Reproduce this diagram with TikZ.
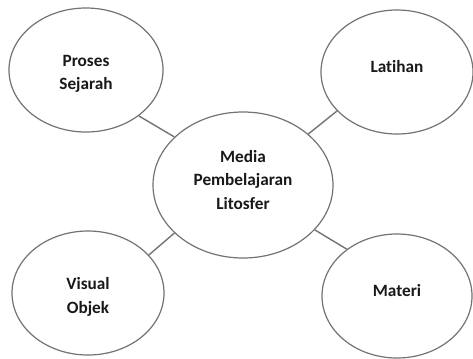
\documentclass[tikz,border=0pt]{standalone}
\usepackage{fontspec}
\setmainfont[RawFeature={-liga;-clig;-dlig}]{Carlito}
\usetikzlibrary{shapes.geometric}
\newcommand{\lift}[2]{\raisebox{#1}[\height][\depth]{\begin{tabular}{@{}c@{}}#2\end{tabular}}}
\begin{document}
\begin{tikzpicture}[x=1bp,y=-1bp,
  bubble/.style={ellipse,draw=black!55,line width=1.2bp,inner sep=0pt,align=center,
    font=\fontsize{17.3}{23.5}\selectfont\bfseries,text=black!90},
  link/.style={draw=black!55,line width=1.4bp}]
\useasboundingbox[fill=white] (0,0) rectangle (473,358);
\node[bubble,minimum width=154bp,minimum height=124bp] (ps) at (86,70) {\lift{-3.5bp}{Proses\\Sejarah}};
\node[bubble,minimum width=152bp,minimum height=124bp] (lt) at (397,72) {\lift{4bp}{Lat\kern0pt ihan}};
\node[bubble,minimum width=180bp,minimum height=146bp] (md) at (243,185) {\lift{4bp}{Media\\Pembelajaran\\Litosfer}};
\node[bubble,minimum width=152bp,minimum height=124bp] (vo) at (88,293) {\lift{-4bp}{Visual\\Objek}};
\node[bubble,minimum width=150bp,minimum height=124bp] (mt) at (397,296) {\lift{4bp}{Materi}};
\draw[link] (ps.-41) -- (md.145);
\draw[link] (lt.-147) -- (md.38.7);
\draw[link] (vo.32) -- (md.215);
\draw[link] (mt.137) -- (md.-32.6);
\end{tikzpicture}
\end{document}
